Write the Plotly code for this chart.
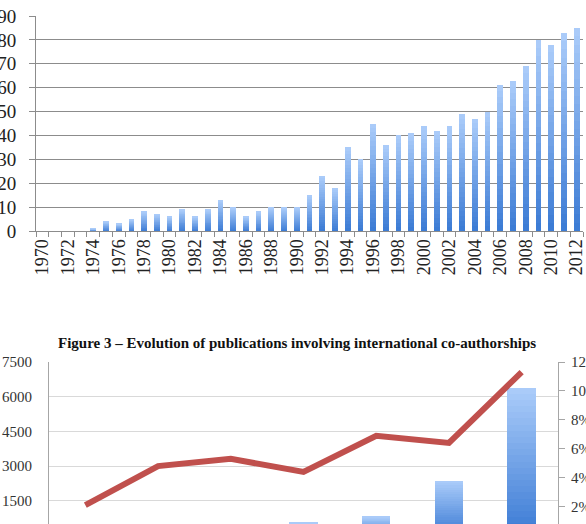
import plotly.graph_objects as go

# ---------------- data ----------------
years = list(range(1970, 2013))
pubs = [0, 0, 0, 0, 1, 4, 3, 5, 8, 7,
        6, 9, 6, 9, 13, 10, 6, 8, 10, 10,
        10, 15, 23, 18, 35, 30, 45, 36, 40, 41,
        44, 42, 44, 49, 47, 50, 61, 63, 69, 80,
        78, 83, 85]
year_ticks = list(range(1970, 2013, 2))
y1_ticks = list(range(0, 100, 10))

periods = ["p1", "p2", "p3", "p4", "p5", "p6", "p7"]
intl_pubs = [120, 250, 380, 560, 800, 2370, 6390]
intl_share = [0.021, 0.048, 0.053, 0.044, 0.069, 0.064, 0.113]
y2_ticks = [1500, 3000, 4500, 6000, 7500]
y3_ticks = [0.02, 0.04, 0.06, 0.08, 0.10, 0.12]

caption = "Figure 3 – Evolution of publications involving international co-authorships"

# ---------------- helpers ----------------
W, H = 586, 524
DARK = (58, 122, 212)
LIGHT = (172, 205, 250)
NSEG = 24


def px_x(p):
    return p / W


def px_y(p):
    return 1 - p / H


def seg_color(k):
    t = (k + 0.5) / NSEG
    c = [round(DARK[i] + (LIGHT[i] - DARK[i]) * t) for i in range(3)]
    return "rgb(%d,%d,%d)" % tuple(c)


fig = go.Figure()


def gradient_bars(x, vals, xa, ya, width):
    for k in range(NSEG):
        fig.add_trace(go.Bar(
            x=x, y=[v / NSEG for v in vals], xaxis=xa, yaxis=ya,
            width=width, marker=dict(color=seg_color(k), line=dict(width=0)),
            showlegend=False, hoverinfo="skip"))


# top chart bars
gradient_bars(years, pubs, "x", "y", 0.45)
# bottom chart bars
gradient_bars(periods, intl_pubs, "x2", "y2", 0.39)
# bottom chart line
fig.add_trace(go.Scatter(
    x=periods, y=intl_share, xaxis="x2", yaxis="y3", mode="lines",
    line=dict(color="#c0504d", width=6), showlegend=False))

serif = "Liberation Serif"
grid_dark = "#8c8c8c"
grid_light = "#d9d9d9"

fig.update_layout(
    width=W, height=H, margin=dict(l=0, r=0, t=0, b=0, autoexpand=False),
    paper_bgcolor="white", plot_bgcolor="white",
    barmode="stack", bargap=0,
    xaxis=dict(domain=[px_x(36), px_x(583)], anchor="y", automargin=False,
               range=[1969.5, 2012.5], tickmode="array", tickvals=year_ticks,
               ticktext=[str(y) for y in year_ticks], tickangle=-90,
               ticklabeloverflow="allow",
               ticks="", showgrid=False, zeroline=False,
               showline=True, linecolor=grid_dark, linewidth=1,
               tickfont=dict(family=serif, size=18, color="#222"),
               minor=dict(ticks="outside", ticklen=5, tickcolor=grid_dark,
                          tick0=1969.5, dtick=1, showgrid=False)),
    yaxis=dict(domain=[px_y(231), px_y(16)], anchor="x", automargin=False,
               range=[0, 90], tickmode="array", tickvals=y1_ticks,
               ticklabeloverflow="allow",
               showgrid=True, gridcolor=grid_dark, gridwidth=1,
               zeroline=False, showline=True, linecolor=grid_dark,
               ticks="outside", ticklen=6, tickcolor=grid_dark,
               ticklabelstandoff=9,
               tickfont=dict(family=serif, size=19, color="#222")),
    xaxis2=dict(domain=[px_x(49), px_x(558)], anchor="y2", automargin=False,
                showticklabels=False, ticks="", showgrid=False,
                zeroline=False, showline=False),
    yaxis2=dict(domain=[0, px_y(362)], anchor="x2", automargin=False,
                range=[497, 7500], tickmode="array", tickvals=y2_ticks,
                ticklabeloverflow="allow",
                showgrid=True, gridcolor=grid_light, gridwidth=1,
                zeroline=False, showline=True, linecolor="#a6a6a6",
                ticks="outside", ticklen=13, tickcolor="rgba(0,0,0,0)",
                tickfont=dict(family=serif, size=15, color="#333")),
    yaxis3=dict(overlaying="y2", side="right", anchor="x2", automargin=False,
                range=[0.00795, 0.12], tickmode="array", tickvals=y3_ticks,
                tickformat=".0%", showgrid=False, zeroline=False,
                ticklabeloverflow="allow",
                showline=True, linecolor="#a6a6a6",
                ticks="outside", ticklen=6, tickcolor="#a6a6a6",
                ticklabelstandoff=3,
                tickfont=dict(family=serif, size=15, color="#333")),
    annotations=[dict(text="<b>" + caption + "</b>", xref="paper", yref="paper",
                      x=px_x(297), y=px_y(343), showarrow=False,
                      xanchor="center", yanchor="middle",
                      font=dict(family=serif, size=15, color="#111"))],
)

fig.write_html("out.html")
